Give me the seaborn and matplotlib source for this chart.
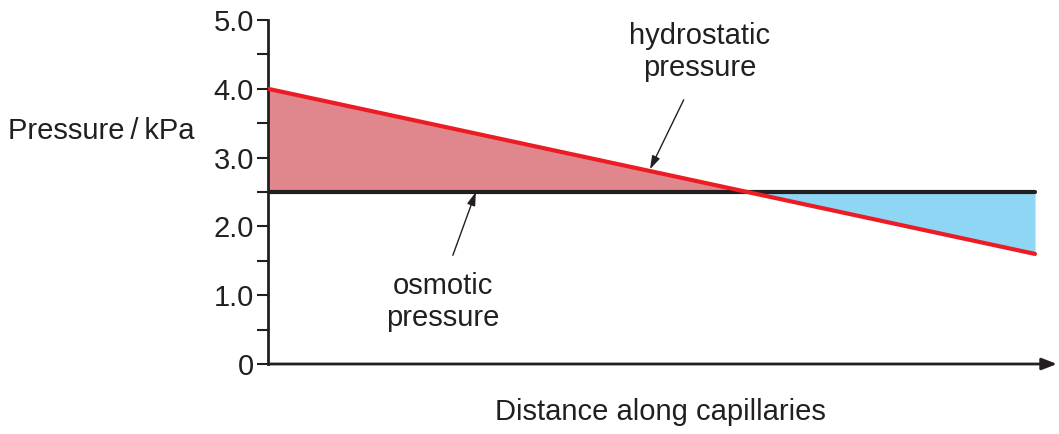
import matplotlib
matplotlib.use("Agg")
import matplotlib.pyplot as plt
import seaborn as sns
import numpy as np
import pandas as pd

# chart values
distance = [0.0, 10.0]
hydrostatic = [4.0, 1.6]
osmotic = [2.5, 2.5]
y_ticks = [0, 1, 2, 3, 4, 5]
y_tick_labels = ["0", "1.0", "2.0", "3.0", "4.0", "5.0"]

sns.set_style("ticks")
plt.rcParams["font.family"] = ["Liberation Sans", "DejaVu Sans"]

red = "#ec1c24"
black = "#231f20"
fs = 21

df = pd.DataFrame({"Distance": distance, "Hydrostatic": hydrostatic, "Osmotic": osmotic})

fig = plt.figure(figsize=(10.59, 4.34), dpi=100)
ax = fig.add_axes([268 / 1059, 1 - 364 / 434, 789 / 1059, 344 / 434])

x = np.array(distance)
h = np.array(hydrostatic)
o = np.array(osmotic)
ax.fill_between(x, h, o, where=h >= o, interpolate=True, color="#e0878d", lw=0, zorder=1)
ax.fill_between(x, h, o, where=h <= o, interpolate=True, color="#8fd6f4", lw=0, zorder=1)

sns.lineplot(data=df, x="Distance", y="Osmotic", color=black, lw=3, ax=ax, zorder=3)
sns.lineplot(data=df, x="Distance", y="Hydrostatic", color=red, lw=3, ax=ax, zorder=4)

ax.set_xlim(0, 10 * 789 / 767)
ax.set_ylim(0, 5)
ax.set_xlabel("")
ax.set_ylabel("")
ax.set_xticks([])
ax.set_yticks(y_ticks)
ax.set_yticklabels(y_tick_labels)
ax.set_yticks(np.arange(0.5, 5, 1), minor=True)
ax.tick_params(axis="y", which="major", length=8, width=1.5, color=black, labelsize=fs, pad=2,
               labelcolor=black)
ax.tick_params(axis="y", which="minor", length=8, width=1.5, color=black)
for s in ["top", "right", "bottom"]:
    ax.spines[s].set_visible(False)
ax.spines["left"].set_linewidth(2)
ax.spines["left"].set_color(black)
ax.patch.set_alpha(0)

# x axis arrow
ax.annotate("", xy=(1.0, 0), xytext=(0, 0), xycoords="axes fraction",
            arrowprops=dict(arrowstyle="-|>,head_length=0.9,head_width=0.35", color=black, lw=2,
                            shrinkA=0, shrinkB=0), annotation_clip=False)

arrow_style = dict(arrowstyle="-|>,head_length=0.8,head_width=0.25", color=black, lw=1,
                   shrinkA=0, shrinkB=0)
ax.annotate("", xy=(4.98, 2.83), xytext=(5.42, 3.84), arrowprops=arrow_style)
ax.annotate("", xy=(2.71, 2.50), xytext=(2.41, 1.58), arrowprops=arrow_style)

ax.text(5.63, 4.53, "hydrostatic\npressure", ha="center", va="center", fontsize=fs, color=black,
        linespacing=1.18)
ax.text(2.28, 0.90, "osmotic\npressure", ha="center", va="center", fontsize=fs, color=black,
        linespacing=1.18)

fig.text(8 / 1059, 1 - 131 / 434, "Pressure\u2009/\u2009kPa", ha="left", va="center", fontsize=fs,
         color=black)
fig.text(660 / 1059, 1 - 412 / 434, "Distance along capillaries", ha="center", va="center",
         fontsize=fs, color=black)

fig.savefig("out.png", dpi=100)
